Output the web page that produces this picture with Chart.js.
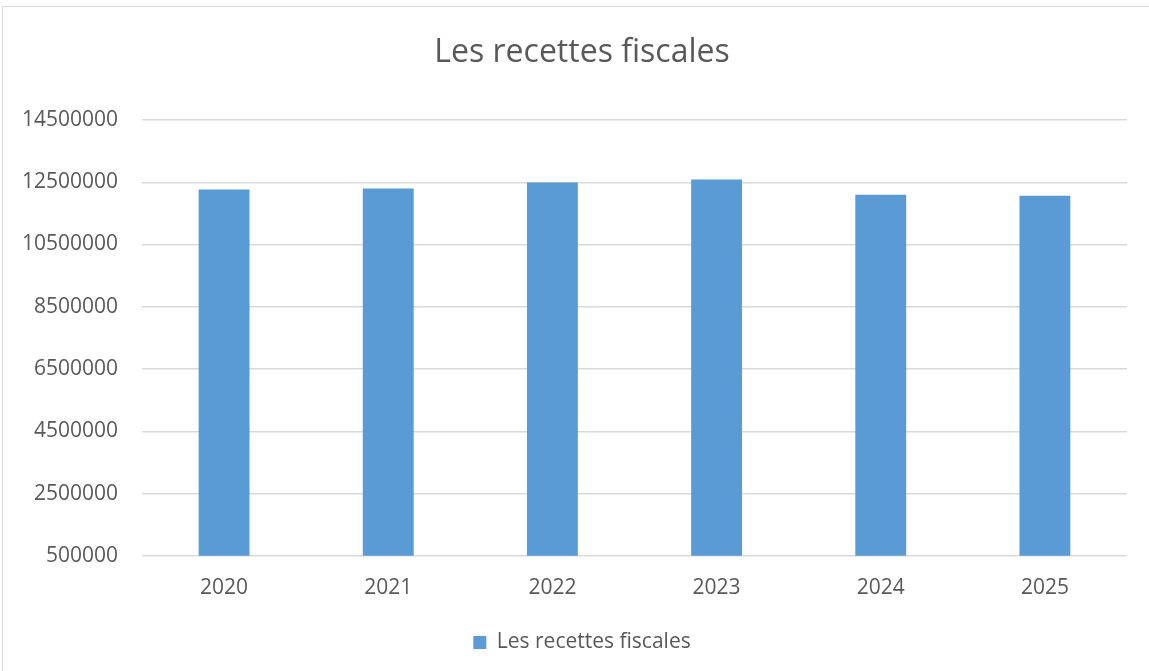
<!DOCTYPE html>
<html lang="fr">
<head>
<meta charset="utf-8">
<title>Les recettes fiscales</title>
<script src="https://cdn.jsdelivr.net/npm/chart.js@4.4.1/dist/chart.umd.min.js"></script>
<style>
    html, body { margin: 0; padding: 0; background: #ffffff; }
    #frame {
        position: absolute; left: 2px; top: 6px; width: 1200px; height: 700px;
        border: 1px solid #d9d9d9; box-sizing: border-box;
    }
    #wrap { position: absolute; left: 0; top: 0; width: 1149px; height: 671px; }
</style>
</head>
<body>
<div id="frame"></div>
<div id="wrap"><canvas id="taxChart"></canvas></div>
<script>
// Data
const years = ['2020', '2021', '2022', '2023', '2024', '2025'];
const recettes = [12270000, 12300000, 12490000, 12590000, 12100000, 12070000];
const seriesLabel = 'Les recettes fiscales';
const yMin = 500000;
const yMax = 14500000;
const yStep = 2000000;

document.addEventListener('DOMContentLoaded', () => {
    const textColor = '#595959';
    const gridColor = '#d9d9d9';
    const barColor = '#5b9bd5';
    const fontFamily = "'Open Sans', 'Liberation Sans', sans-serif";

    Chart.defaults.font.family = fontFamily;
    Chart.defaults.color = textColor;

    // the y labels hang into the left padding, so widen their clip box
    const labelRoom = {
        id: 'labelRoom',
        afterLayout(chart) {
            chart.scales.y.left = 0;
        }
    };

    const ctx = document.getElementById('taxChart').getContext('2d');
    new Chart(ctx, {
        type: 'bar',
        data: {
            labels: years,
            datasets: [{
                label: seriesLabel,
                data: recettes,
                backgroundColor: barColor,
                borderWidth: 0,
                barPercentage: 0.31,
                categoryPercentage: 1
            }]
        },
        options: {
            responsive: true,
            maintainAspectRatio: false,
            animation: false,
            layout: {
                // left padding pushes title/legend centre to the right like the original
                padding: { top: 10, right: 22, bottom: 8, left: 37 }
            },
            plugins: {
                title: {
                    display: true,
                    text: seriesLabel,
                    color: textColor,
                    font: { size: 32, weight: 'normal' },
                    padding: { top: 24, bottom: 47.6 }
                },
                legend: {
                    position: 'bottom',
                    labels: {
                        color: textColor,
                        font: { size: 21 },
                        boxWidth: 13,
                        boxHeight: 13,
                        padding: 12
                    }
                },
                tooltip: { enabled: false }
            },
            scales: {
                x: {
                    grid: { display: false, drawTicks: false },
                    border: { display: false },
                    ticks: { color: textColor, font: { size: 21 }, padding: 19.5 }
                },
                y: {
                    min: yMin,
                    max: yMax,
                    afterFit: (axis) => { axis.width = 105; },
                    grid: { color: gridColor, lineWidth: 1.5, drawTicks: false },
                    border: { display: false },
                    ticks: {
                        stepSize: yStep,
                        color: textColor,
                        font: { size: 21 },
                        padding: 24,
                        callback: (value) => String(value)
                    }
                }
            }
        },
        plugins: [labelRoom]
    });
});
</script>
</body>
</html>
